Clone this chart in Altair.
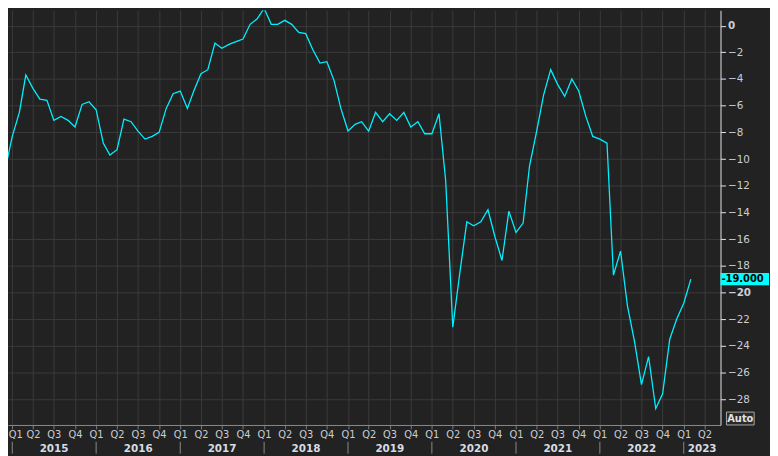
import altair as alt
import pandas as pd

# ---- data (monthly index) ----
start_month = "2014-11-01"
values = [
    -11.5, -10.8,                                                        # 2014 Nov-Dec
    -8.3, -6.5, -3.7, -4.7, -5.5, -5.6, -7.1, -6.8, -7.1, -7.6, -5.9, -5.7,   # 2015
    -6.3, -8.8, -9.7, -9.3, -7.0, -7.2, -7.9, -8.5, -8.3, -8.0, -6.2, -5.1,   # 2016
    -4.9, -6.2, -4.9, -3.6, -3.3, -1.3, -1.7, -1.4, -1.2, -1.0, 0.1, 0.5,     # 2017
    1.3, 0.1, 0.1, 0.4, 0.1, -0.5, -0.6, -1.8, -2.8, -2.7, -4.1, -6.2,        # 2018
    -7.9, -7.4, -7.2, -7.9, -6.5, -7.2, -6.6, -7.1, -6.5, -7.6, -7.2, -8.1,   # 2019
    -8.1, -6.6, -11.6, -22.6, -18.6, -14.7, -15.0, -14.7, -13.8, -15.8, -17.6, -13.9,  # 2020
    -15.5, -14.8, -10.5, -7.9, -5.2, -3.3, -4.4, -5.3, -4.0, -4.9, -6.8, -8.3,         # 2021
    -8.5, -8.8, -18.7, -16.9, -21.0, -23.7, -26.9, -24.8, -28.7, -27.6, -23.5, -22.0,  # 2022
    -20.8, -19.0,                                                        # 2023
]
dates = pd.date_range(start_month, periods=len(values), freq="MS").strftime("%Y-%m-%d").tolist()

quarter_ticks = pd.date_range("2015-01-01", "2023-04-01", freq="QS").strftime("%Y-%m-%d").tolist()
years = ["2015", "2016", "2017", "2018", "2019", "2020", "2021", "2022", "2023"]
year_starts = [y + "-01-01" for y in years]
year_label_pos = ["2015-07-02", "2016-07-02", "2017-07-02", "2018-07-02", "2019-07-02",
                  "2020-07-02", "2021-07-02", "2022-07-02", "2023-03-22"]
y_ticks = list(range(-28, 1, 2))
last_label = "-19.000"


def ms(d):
    return int(pd.Timestamp(d).value // 10**6)


x_domain = [ms("2014-12-13T12:00"), ms("2023-06-10")]
y_domain = [-29.93, 1.15]

BG = "#222222"
GRID = "#3b3b3b"
CYAN = "#00f0ff"
LABEL = "#c8ced8"
FONT = "DejaVu Sans"

df = pd.DataFrame({"date": dates, "value": values})
df_years = pd.DataFrame({"date": year_label_pos, "label": years})
df_seps = pd.DataFrame({"date": year_starts})
df_last = pd.DataFrame({
    "date": [dates[-1]],
    "value": [values[-1]],
    "top": [values[-1] + 0.46],
    "bot": [values[-1] - 0.46],
    "label": [last_label],
})
df_auto = pd.DataFrame({"label": ["Auto"]})

x_axis = alt.Axis(
    values=[ms(d) for d in quarter_ticks],
    labelExpr="'Q' + (floor(utcmonth(datum.value) / 3) + 1)",
    title=None,
    tickSize=4,
    tickColor="#7a7a7a",
    domainColor="#8a8a8a",
    grid=True,
    gridColor=GRID,
    labelColor=LABEL,
    labelFont=FONT,
    labelFontSize=10,
    labelPadding=1,
    labelOverlap=False,
    labelFlush=6,
    labelFlushOffset=4,
    labelBound=False,
)
y_axis = alt.Axis(
    orient="right",
    values=y_ticks,
    title=None,
    tickSize=5,
    tickColor="#e6e6e6",
    domainColor="#e6e6e6",
    grid=True,
    gridColor=GRID,
    labelColor=LABEL,
    labelFont=FONT,
    labelFontSize=10.5,
    labelPadding=2,
    labelFontWeight={"condition": {"test": "datum.value == 0 || datum.value == -20", "value": "bold"},
                     "value": "normal"},
)

x_scale = alt.Scale(type="utc", domain=x_domain, nice=False)
y_scale = alt.Scale(domain=y_domain, nice=False, zero=False)

xenc = alt.X("date:T", scale=x_scale, axis=x_axis)
yenc = alt.Y("value:Q", scale=y_scale, axis=y_axis)

line = alt.Chart(df).mark_line(color=CYAN, strokeWidth=1.3, clip=True).encode(x=xenc, y=yenc)

seps = alt.Chart(df_seps).mark_rule(color="#8a8a8a", strokeWidth=1).encode(
    x=xenc, y=alt.value(436), y2=alt.value(448)
)
year_text = alt.Chart(df_years).mark_text(
    font=FONT, fontSize=10.5, fontWeight="bold", color="#d8dce3", baseline="middle", align="center"
).encode(x=xenc, y=alt.value(443), text="label:N")

badge = alt.Chart(df_last).mark_rect(color="#00ffff").encode(
    x=alt.value(720), x2=alt.value(769), y=alt.Y("top:Q", scale=y_scale, axis=y_axis), y2="bot:Q"
)
badge_text = alt.Chart(df_last).mark_text(
    font=FONT, fontSize=10, fontWeight="bold", color="#000000", align="left", baseline="middle"
).encode(x=alt.value(721), y=yenc, text="label:N")

auto_box = alt.Chart(df_auto).mark_rect(fill="#2a2a2a", stroke="#a8a8a8", strokeWidth=1).encode(
    x=alt.value(726), x2=alt.value(754), y=alt.value(406), y2=alt.value(419)
)
auto_text = alt.Chart(df_auto).mark_text(
    font=FONT, fontSize=10, fontWeight="bold", color="#e2e2e2", align="center", baseline="middle"
).encode(x=alt.value(740), y=alt.value(413), text="label:N")

chart = alt.layer(line, seps, year_text, badge, badge_text, auto_box, auto_text).properties(
    width=720,
    height=419,
    autosize=alt.AutoSizeParams(type="none"),
    padding={"left": 0, "top": 0, "right": 50, "bottom": 29},
    background=BG,
).configure_view(stroke=None)

chart.save("out.html", embed_options={"renderer": "svg", "actions": False})
